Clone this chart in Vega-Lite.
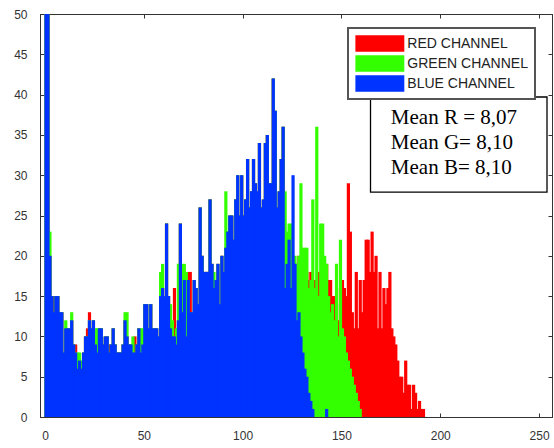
{
  "$schema": "https://vega.github.io/schema/vega-lite/v6.json",
  "width": 512,
  "height": 403,
  "autosize": "none",
  "padding": {"left": 40, "top": 14, "right": 2, "bottom": 31},
  "background": "white",
  "config": {
    "view": {"stroke": "#333", "strokeWidth": 1},
    "legend": {"strokeWidth": 2},
    "axis": {
      "labelFont": "Liberation Sans",
      "labelFontSize": 12,
      "labelColor": "#333",
      "domainColor": "#333",
      "tickColor": "#333",
      "grid": false,
      "title": null,
      "tickSize": -4,
      "labelPadding": 17
    }
  },
  "resolve": {"axis": {"x": "independent", "y": "independent"}},
  "layer": [
    {
      "data": {
        "values": [
          {"v":0,"r":50,"g":50,"b":55},{"v":1,"r":50,"g":50,"b":52},{"v":2,"r":20,"g":23,"b":20},{"v":3,"r":15,"g":15,"b":15},
          {"v":4,"r":15,"g":13,"b":13},{"v":5,"r":15,"g":15,"b":15},{"v":6,"r":15,"g":15,"b":15},{"v":7,"r":13,"g":13,"b":13},
          {"v":8,"r":13,"g":13,"b":13},{"v":9,"r":8,"g":8,"b":8},{"v":10,"r":11,"g":12,"b":11},{"v":11,"r":11,"g":11,"b":11},
          {"v":12,"r":11,"g":11,"b":11},{"v":13,"r":12,"g":13,"b":12},{"v":14,"r":9,"g":9,"b":9},{"v":15,"r":9,"g":8,"b":8},
          {"v":16,"r":6,"g":8,"b":6},{"v":17,"r":7,"g":8,"b":7},{"v":18,"r":6,"g":7,"b":6},{"v":19,"r":8,"g":8,"b":8},
          {"v":20,"r":10,"g":10,"b":10},{"v":21,"r":11,"g":10,"b":10},{"v":22,"r":13,"g":12,"b":12},{"v":23,"r":11,"g":11,"b":11},
          {"v":24,"r":12,"g":12,"b":12},{"v":25,"r":9,"g":11,"b":9},{"v":26,"r":8,"g":11,"b":8},{"v":27,"r":11,"g":11,"b":11},
          {"v":28,"r":11,"g":11,"b":11},{"v":29,"r":9,"g":9,"b":9},{"v":30,"r":10,"g":10,"b":10},{"v":31,"r":10,"g":10,"b":10},
          {"v":32,"r":9,"g":8,"b":8},{"v":33,"r":9,"g":9,"b":9},{"v":34,"r":11,"g":11,"b":11},{"v":35,"r":9,"g":9,"b":9},
          {"v":36,"r":8,"g":8,"b":8},{"v":37,"r":8,"g":8,"b":8},{"v":38,"r":8,"g":8,"b":8},{"v":39,"r":9,"g":9,"b":9},
          {"v":40,"r":12,"g":13,"b":12},{"v":41,"r":10,"g":13,"b":10},{"v":42,"r":9,"g":9,"b":9},{"v":43,"r":9,"g":9,"b":9},
          {"v":44,"r":8,"g":10,"b":8},{"v":45,"r":10,"g":8,"b":8},{"v":46,"r":9,"g":9,"b":9},{"v":47,"r":11,"g":11,"b":11},
          {"v":48,"r":8,"g":11,"b":8},{"v":49,"r":9,"g":11,"b":9},{"v":50,"r":14,"g":14,"b":14},{"v":51,"r":14,"g":14,"b":14},
          {"v":52,"r":11,"g":11,"b":11},{"v":53,"r":14,"g":14,"b":14},{"v":54,"r":11,"g":11,"b":11},{"v":55,"r":11,"g":11,"b":11},
          {"v":56,"r":11,"g":11,"b":11},{"v":57,"r":10,"g":10,"b":10},{"v":58,"r":15,"g":18,"b":15},{"v":59,"r":16,"g":19,"b":16},
          {"v":60,"r":15,"g":15,"b":15},{"v":61,"r":24,"g":24,"b":24},{"v":62,"r":15,"g":15,"b":15},{"v":63,"r":11,"g":14,"b":11},
          {"v":64,"r":10,"g":12,"b":10},{"v":65,"r":16,"g":10,"b":10},{"v":66,"r":9,"g":11,"b":9},{"v":67,"r":12,"g":19,"b":12},
          {"v":68,"r":24,"g":24,"b":24},{"v":69,"r":13,"g":19,"b":13},{"v":70,"r":17,"g":19,"b":17},{"v":71,"r":10,"g":18,"b":10},
          {"v":72,"r":18,"g":17,"b":17},{"v":73,"r":18,"g":13,"b":13},{"v":74,"r":13,"g":13,"b":13},{"v":75,"r":17,"g":17,"b":17},
          {"v":76,"r":16,"g":16,"b":16},{"v":77,"r":14,"g":14,"b":14},{"v":78,"r":26,"g":26,"b":26},{"v":79,"r":20,"g":20,"b":20},
          {"v":80,"r":18,"g":18,"b":18},{"v":81,"r":18,"g":18,"b":18},{"v":82,"r":18,"g":18,"b":18},{"v":83,"r":27,"g":27,"b":27},
          {"v":84,"r":19,"g":19,"b":19},{"v":85,"r":16,"g":18,"b":16},{"v":86,"r":17,"g":17,"b":17},{"v":87,"r":19,"g":19,"b":19},
          {"v":88,"r":14,"g":14,"b":14},{"v":89,"r":20,"g":20,"b":20},{"v":90,"r":18,"g":18,"b":18},{"v":91,"r":21,"g":28,"b":21},
          {"v":92,"r":23,"g":23,"b":23},{"v":93,"r":25,"g":25,"b":25},{"v":94,"r":25,"g":25,"b":25},{"v":95,"r":22,"g":22,"b":22},
          {"v":96,"r":27,"g":27,"b":27},{"v":97,"r":30,"g":30,"b":30},{"v":98,"r":25,"g":25,"b":25},{"v":99,"r":30,"g":30,"b":30},
          {"v":100,"r":25,"g":25,"b":25},{"v":101,"r":27,"g":27,"b":27},{"v":102,"r":32,"g":32,"b":32},{"v":103,"r":26,"g":26,"b":26},
          {"v":104,"r":28,"g":28,"b":28},{"v":105,"r":32,"g":32,"b":32},{"v":106,"r":29,"g":29,"b":29},{"v":107,"r":28,"g":28,"b":28},
          {"v":108,"r":34,"g":34,"b":34},{"v":109,"r":26,"g":26,"b":26},{"v":110,"r":27,"g":27,"b":27},{"v":111,"r":34,"g":34,"b":34},
          {"v":112,"r":35,"g":35,"b":35},{"v":113,"r":29,"g":29,"b":29},{"v":114,"r":29,"g":29,"b":29},{"v":115,"r":42,"g":42,"b":42},
          {"v":116,"r":38,"g":38,"b":38},{"v":117,"r":26,"g":26,"b":26},{"v":118,"r":28,"g":28,"b":28},{"v":119,"r":32,"g":32,"b":32},
          {"v":120,"r":36,"g":36,"b":36},{"v":121,"r":18,"g":28,"b":16},{"v":122,"r":17,"g":23,"b":19},{"v":123,"r":19,"g":24,"b":22},
          {"v":124,"r":18,"g":24,"b":16},{"v":125,"r":17,"g":20,"b":30},{"v":126,"r":18,"g":20,"b":19},{"v":127,"r":17,"g":19,"b":12},
          {"v":128,"r":20,"g":20,"b":13},{"v":129,"r":19,"g":29,"b":10},{"v":130,"r":20,"g":21,"b":8},{"v":131,"r":19,"g":21,"b":6},
          {"v":132,"r":18,"g":21,"b":5},{"v":133,"r":17,"g":16,"b":3},{"v":134,"r":18,"g":17,"b":2},{"v":135,"r":16,"g":27,"b":1},
          {"v":136,"r":17,"g":16,"b":0},{"v":137,"r":16,"g":36,"b":0},{"v":138,"r":18,"g":15,"b":0},{"v":139,"r":17,"g":24,"b":0},
          {"v":140,"r":16,"g":24,"b":0},{"v":141,"r":18,"g":20,"b":0},{"v":142,"r":19,"g":19,"b":1},{"v":143,"r":17,"g":15,"b":0},
          {"v":144,"r":17,"g":13,"b":0},{"v":145,"r":15,"g":14,"b":0},{"v":146,"r":15,"g":12,"b":0},{"v":147,"r":14,"g":19,"b":0},
          {"v":148,"r":12,"g":10,"b":0},{"v":149,"r":16,"g":22,"b":0},{"v":150,"r":17,"g":11,"b":0},{"v":151,"r":16,"g":10,"b":0},
          {"v":152,"r":15,"g":8,"b":0},{"v":153,"r":29,"g":7,"b":0},{"v":154,"r":23,"g":6,"b":0},{"v":155,"r":13,"g":5,"b":0},
          {"v":156,"r":11,"g":4,"b":0},{"v":157,"r":18,"g":3,"b":0},{"v":158,"r":11,"g":2,"b":0},{"v":159,"r":17,"g":1,"b":0},
          {"v":160,"r":13,"g":0,"b":0},{"v":161,"r":17,"g":0,"b":0},{"v":162,"r":22,"g":0,"b":0},{"v":163,"r":22,"g":0,"b":0},
          {"v":164,"r":18,"g":0,"b":0},{"v":165,"r":23,"g":0,"b":0},{"v":166,"r":18,"g":0,"b":0},{"v":167,"r":20,"g":0,"b":0},
          {"v":168,"r":11,"g":0,"b":0},{"v":169,"r":18,"g":0,"b":0},{"v":170,"r":11,"g":0,"b":0},{"v":171,"r":16,"g":0,"b":0},
          {"v":172,"r":14,"g":0,"b":0},{"v":173,"r":16,"g":0,"b":0},{"v":174,"r":18,"g":0,"b":0},{"v":175,"r":11,"g":0,"b":0},
          {"v":176,"r":10,"g":0,"b":0},{"v":177,"r":9,"g":0,"b":0},{"v":178,"r":7,"g":0,"b":0},{"v":179,"r":5,"g":0,"b":0},
          {"v":180,"r":5,"g":0,"b":0},{"v":181,"r":3,"g":0,"b":0},{"v":182,"r":7,"g":0,"b":0},{"v":183,"r":4,"g":0,"b":0},
          {"v":184,"r":4,"g":0,"b":0},{"v":185,"r":1,"g":0,"b":0},{"v":186,"r":4,"g":0,"b":0},{"v":187,"r":3,"g":0,"b":0},
          {"v":188,"r":1,"g":0,"b":0},{"v":189,"r":2,"g":0,"b":0},{"v":190,"r":1,"g":0,"b":0},{"v":191,"r":1,"g":0,"b":0}
        ]
      },
      "transform": [{"fold": ["r", "g", "b"], "as": ["ch", "n"]}],
      "mark": {"type": "bar", "width": 3.2, "xOffset": 1, "clip": true},
      "encoding": {
        "x": {
          "field": "v", "type": "quantitative",
          "scale": {"domain": [0, 254], "nice": false, "zero": false},
          "axis": {"orient": "bottom", "values": [0, 50, 100, 150, 200, 250], "format": "d"}
        },
        "y": {
          "field": "n", "type": "quantitative", "stack": null,
          "scale": {"domain": [0, 50], "nice": false},
          "axis": {"orient": "left", "values": [0, 5, 10, 15, 20, 25, 30, 35, 40, 45, 50], "format": "d"}
        },
        "color": {
          "field": "ch", "type": "nominal",
          "scale": {"domain": ["r", "g", "b"], "range": ["#ff0000", "#33ff00", "#0033ff"]},
          "legend": {
            "orient": "none", "legendX": 308, "legendY": 14, "title": null,
            "symbolType": "M-3,-1H3V1H-3Z", "symbolSize": 266, "symbolOffset": 16.35,
            "symbolStrokeWidth": 0, "labelOffset": 19,
            "labelFont": "Liberation Sans", "labelFontSize": 14, "labelColor": "#222",
            "labelExpr": "{'r': 'RED CHANNEL', 'g': 'GREEN CHANNEL', 'b': 'BLUE CHANNEL'}[datum.value]",
            "rowPadding": 3, "padding": 7, "strokeColor": "#555", "fillColor": "white"
          }
        },
        "order": {"field": "ch", "sort": "descending"}
      }
    },
    {
      "data": {"values": [{}]},
      "mark": {"type": "rect", "fill": "white", "stroke": "black", "strokeWidth": 1.3},
      "encoding": {
        "x": {"datum": 164.7, "type": "quantitative",
          "axis": {"orient": "top", "labels": false, "values": [0, 50, 100, 150, 200, 250]}},
        "x2": {"datum": 254},
        "y": {"datum": 39.7, "type": "quantitative",
          "axis": {"orient": "right", "labels": false, "values": [0, 5, 10, 15, 20, 25, 30, 35, 40, 45, 50]}},
        "y2": {"datum": 27.9}
      }
    },
    {
      "data": {"values": [{}]},
      "mark": {"type": "text", "align": "left", "baseline": "middle", "font": "Liberation Serif", "fontSize": 21, "lineHeight": 25, "color": "black",
        "text": ["Mean R = 8,07", "Mean G= 8,10", "Mean B= 8,10"]},
      "encoding": {
        "x": {"datum": 175, "type": "quantitative", "axis": null},
        "y": {"datum": 37.1, "type": "quantitative", "axis": null}
      }
    }
  ]
}
